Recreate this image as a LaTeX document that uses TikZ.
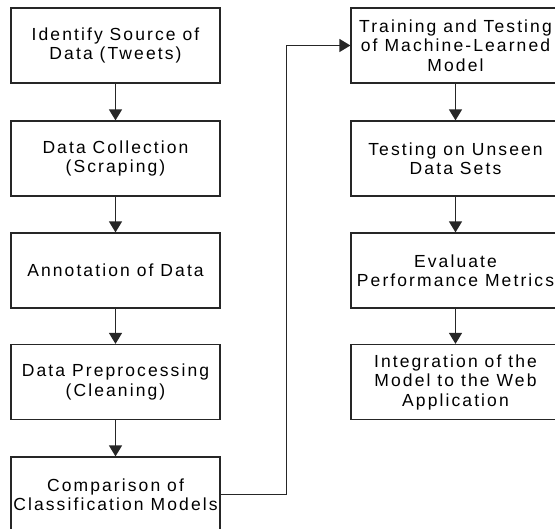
\documentclass[tikz,border=0pt]{standalone}
\usepackage{fontspec}
\setmainfont{Liberation Sans}[LetterSpace=12]
\usetikzlibrary{arrows.meta}

\begin{document}
\begin{tikzpicture}[x=1pt,y=-1pt,
  stage/.style={draw=black!85,line width=1.2pt,rectangle,minimum width=209pt,minimum height=75pt,
    align=center,inner sep=0pt,font=\fontsize{17.5}{19.5}\selectfont},
  flow/.style={draw=black!85,line width=1.3pt,-{Triangle[length=11pt,width=13pt]}}]
\useasboundingbox (0,0) rectangle (555,529);
\node [stage] (src) at (115.5,45.5) {Identify Source of\\Data (Tweets)};
\node [stage] (coll) at (115.5,158.5) {Data Collection\\(Scraping)};
\node [stage] (annot) at (115.5,270.5) {Annotation of Data};
\node [stage] (prep) at (115.5,382) {Data Preprocessing\\(Cleaning)};
\node [stage] (cmp) at (115.5,494.5) {Comparison of\\Classification Models};
\node [stage] (train) at (455.5,45.5) {Training and Testing\\of Machine-Learned\\Model};
\node [stage] (unseen) at (455.5,158.5) {Testing on Unseen\\Data Sets};
\node [stage] (eval) at (455.5,270.5) {Evaluate\\Performance Metrics};
\node [stage] (integ) at (455.5,382) {Integration of the\\Model to the Web\\Application};
\draw [flow] (src) -- (coll);
\draw [flow] (coll) -- (annot);
\draw [flow] (annot) -- (prep);
\draw [flow] (prep) -- (cmp);
\draw [flow] (cmp.east) -- ++(66,0) |- (train.west);
\draw [flow] (train) -- (unseen);
\draw [flow] (unseen) -- (eval);
\draw [flow] (eval) -- (integ);
\end{tikzpicture}
\end{document}
